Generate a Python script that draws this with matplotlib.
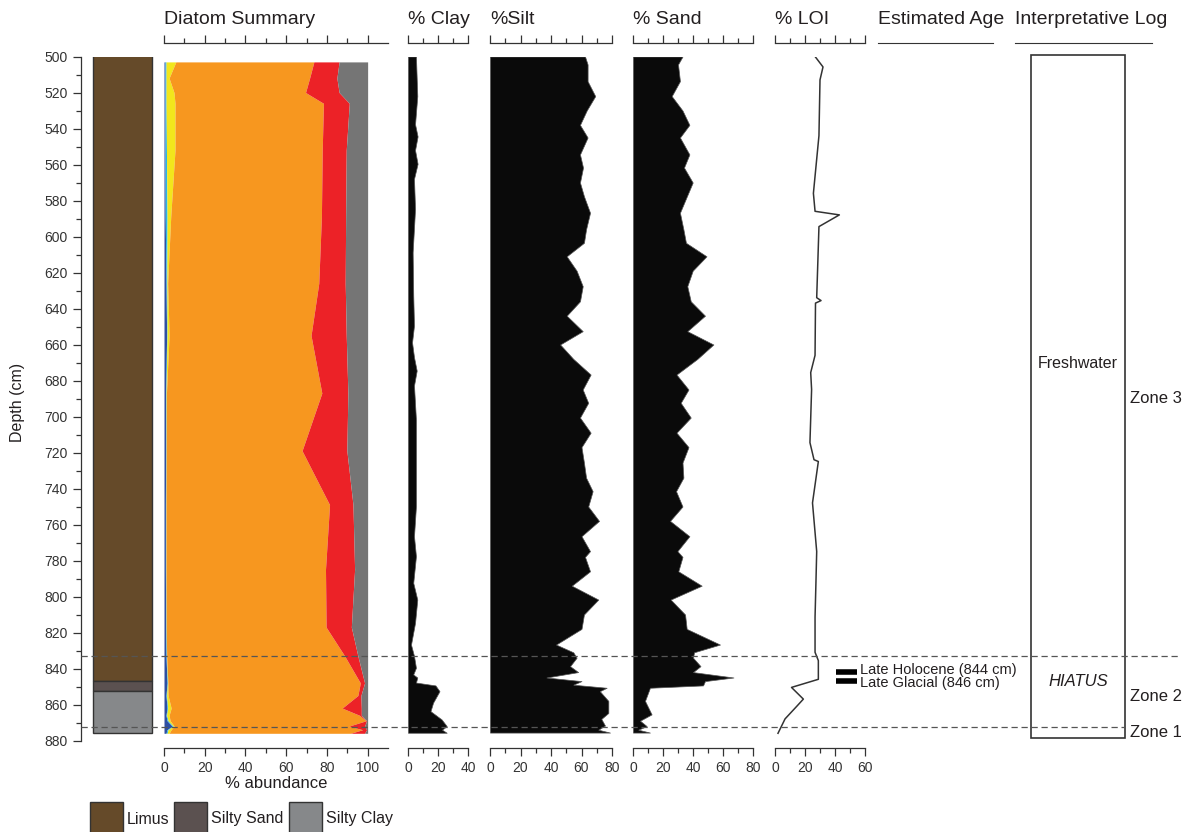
import numpy as np
import matplotlib.pyplot as plt
import matplotlib.transforms as mtransforms
from matplotlib.patches import Rectangle
from matplotlib.lines import Line2D
from matplotlib.ticker import FixedLocator

plt.rcParams['font.family'] = ['Liberation Sans', 'DejaVu Sans']

# lithology units (top, bottom in cm)
lith_names = ['Limus', 'Silty Sand', 'Silty Clay']
lith_top = [499, 846.8, 852.3]
lith_bot = [846.8, 852.3, 875.6]
lith_colors = ['#654a29', '#5b5150', '#86888a']

# diatom summary, % per group
diat_depth = [503, 512, 520, 526, 552, 589, 626, 655, 687, 719, 749, 785, 817,
              833, 848, 855, 862, 866, 869, 872, 874, 876]
diat_blue = [0.5, 0.5, 0.5, 0.5, 0.5, 0.6, 1.0, 1.3, 0.8, 0.8, 0.7, 0.7, 0.8,
             1.0, 1.5, 1.0, 1.5, 1.0, 1.5, 4.0, 1.5, 1.0]
diat_cyan = [0.5, 0.5, 0.5, 0.5, 0.7, 0.9, 0.4, 0.2, 0.2, 0.2, 0.2, 0.2, 0.2,
             0.2, 0.2, 0.3, 0.3, 0.3, 0.5, 0.5, 0.5, 0.5]
diat_yellow = [4.8, 1.5, 3.9, 4.4, 4.2, 1.8, 0.4, 1.0, 0.2, 0.1, 0.1, 0.1, 0.1,
               0.1, 0.2, 0.7, 1.7, 1.2, 1.0, 0.5, 1.5, 1.0]
diat_orange = [67.8, 69.0, 64.6, 72.9, 72.3, 74.0, 74.2, 69.7, 76.3, 66.7, 80.3, 78.3, 78.5,
               87.4, 94.5, 93.2, 84.0, 93.5, 96.3, 85.8, 94.0, 89.1]
diat_red = [12.4, 13.4, 16.5, 12.7, 11.8, 11.9, 13.0, 17.3, 12.8, 22.0, 11.5, 14.3, 12.4,
            6.5, 2.1, 1.5, 9.4, 0.9, 0.2, 7.7, 2.0, 6.9]
diat_gray = [14.0, 15.1, 14.0, 9.0, 10.5, 10.8, 11.0, 10.5, 9.7, 10.2, 7.2, 6.4, 8.0,
             4.8, 1.5, 3.3, 3.1, 3.1, 0.5, 1.5, 0.5, 1.5]
diat_colors = ['#2e4fa3', '#29b6e6', '#f2e61c', '#f7971f', '#ec2227', '#757575']

clay_depth = [500, 522, 537.6, 544.4, 552, 559.6, 568, 584.7, 608.8, 632.8, 649.5, 658.8,
              667, 674.5, 682.8, 701.8, 722, 749.8, 766.5, 777.6, 792.4, 801.7, 814.6,
              826.7, 833, 839.6, 843.3, 845, 847.8, 849.4, 852.6, 859, 863.7, 868.3,
              872, 874, 875.7]
clay = [5.3, 6.2, 4.7, 6.4, 4.7, 6.4, 4.0, 4.7, 3.1, 3.5, 4.0, 2.7,
        4.0, 5.8, 4.0, 5.3, 5.3, 5.3, 4.0, 5.3, 3.5, 6.2, 4.7,
        2.0, 4.0, 5.3, 3.5, 6.2, 5.3, 18.3, 21.0, 16.7, 15.0, 22.4,
        25.8, 22.7, 25.8]

silt_depth = [500, 504.4, 513.7, 522, 530, 538, 545, 554.4, 561.7, 570, 577.6, 586.8,
              596, 603.5, 611, 619, 627.6, 636, 644, 652.6, 660, 668, 676.7, 685,
              692.4, 700.6, 709, 717, 725.6, 734, 741.5, 750, 758, 766.5, 774.8, 778,
              786, 794, 801.7, 810, 818, 826.7, 831, 834, 838.7, 842, 845, 847, 849,
              850.7, 852.6, 858, 864.7, 868, 871.7, 874, 875.6]
silt = [62.3, 64, 64, 69, 63.4, 59, 64, 59, 61, 59, 61.6, 65.6,
        63, 61.6, 50.3, 56.8, 60.8, 59, 50.3, 60.8, 46, 54.6, 66, 60.8,
        64.4, 59, 66, 60, 61.6, 63, 67.3, 64.4, 71.5, 60, 65.6, 62.3,
        65.6, 53.6, 71, 61.6, 60, 43.3, 54.6, 56.8, 52.5, 57.8, 37, 60, 54.6,
        76.5, 72, 77.6, 77.6, 73, 75.4, 71, 78.7]

sand_depth = [500, 504.4, 513.7, 522, 530, 538, 545, 554.4, 561.7, 570, 586.8,
              596, 603.5, 611, 619, 627.6, 636, 644, 652.6, 660, 668, 676.7, 685,
              692.4, 700.6, 709, 717, 725.6, 734, 741.5, 750, 758, 766.5, 774.8, 778,
              786, 794, 801.7, 810, 818, 826.7, 831, 834, 838.7, 842, 845, 847, 849.4,
              850.7, 858, 865.5, 869, 872, 874, 875.6]
sand = [33, 30, 31.3, 25.8, 33, 37.6, 31.3, 37.6, 34, 39.8, 31.3,
        33.6, 35.3, 49, 39.8, 36.2, 38.5, 48, 36.2, 53.6, 42.9, 29, 37,
        31.8, 38.5, 29, 37, 33, 33.6, 28.7, 33, 24.7, 37.6, 29.6, 33,
        30.2, 45.8, 25.1, 34.7, 35.8, 58, 40.7, 40, 45, 40, 67, 48, 46.7,
        11.3, 8, 12.4, 4.7, 9.1, 3.5, 11.3]

loi_depth = [500, 505.8, 513, 544, 576, 586, 588, 594.5, 634, 635.6, 637, 666, 675.6,
             685, 714.5, 724, 725, 748, 775, 792, 811.5, 831, 835.6, 846, 850.5,
             857, 861, 868, 876]
loi = [26.7, 32, 30, 29.3, 25.6, 26.7, 42.9, 29.3, 27.8, 30.7, 27, 26.7, 23.8,
       24.4, 23.3, 26, 28.9, 25, 27.8, 27.3, 26.7, 26.7, 28.9, 28.9, 11,
       18.9, 14.5, 6.7, 2]

age_labels = ['Late Holocene (844 cm)', 'Late Glacial (846 cm)']
age_depths = [844, 846]

zone_bounds = [833, 872.5]
zone_labels = ['Zone 3', 'Zone 2', 'Zone 1']
zone_label_depths = [690, 855.8, 875.8]

W, H = 1200, 832
TOP, BOT = 56.5, 740.5
INK = '#231f20'

fig = plt.figure(figsize=(12, 8.32), dpi=100)


def panel(x0, x1):
    ax = fig.add_axes([x0 / W, 1 - BOT / H, (x1 - x0) / W, (BOT - TOP) / H])
    ax.set_ylim(880, 500)
    ax.patch.set_alpha(0)
    for s in ax.spines.values():
        s.set_visible(False)
    ax.set_yticks([])
    ax.set_xticks([])
    return ax


def scale(ax, xmax, step, label_step, title, x0):
    ax.set_xlim(0, xmax * 1.0)
    top = (xmax // 10) * 10
    ax.xaxis.set_major_locator(FixedLocator(np.arange(0, top + 1, label_step)))
    ax.xaxis.set_minor_locator(FixedLocator([v for v in np.arange(0, top + 1, step)
                                             if v % label_step]))
    for s in ['top', 'bottom']:
        ax.spines[s].set_visible(True)
        ax.spines[s].set_color('#333333')
        ax.spines[s].set_linewidth(0.9)
    ax.spines['top'].set_position(('outward', 9.5))
    ax.spines['bottom'].set_position(('outward', 5.6))
    ax.xaxis.set_ticks_position('both')
    ax.tick_params(axis='x', which='major', length=5.8, width=0.9, color='#333333',
                   labelsize=10, labelcolor='#333333', pad=3)
    ax.tick_params(axis='x', which='minor', length=3.4, width=0.9, color='#333333')
    fig.text(x0 / W, 1 - 20 / H, title, fontsize=14, color=INK, ha='left', va='center')


# lithology + depth axis
ax_lith = panel(81, 160)
ax_lith.set_xlim(0, 79)
ax_lith.spines['left'].set_visible(True)
ax_lith.spines['left'].set_color('#333333')
ax_lith.spines['left'].set_linewidth(0.9)
ax_lith.set_yticks(np.arange(500, 881, 20))
ax_lith.set_yticks(np.arange(510, 880, 20), minor=True)
ax_lith.tick_params(axis='y', which='major', length=5.8, width=0.9, color='#333333',
                    labelsize=10, labelcolor='#333333', pad=4)
ax_lith.tick_params(axis='y', which='minor', length=3.4, width=0.9, color='#333333')
for top, bot, c in zip(lith_top, lith_bot, lith_colors):
    ax_lith.bar(41.5, bot - top, bottom=top, width=59, color=c,
                edgecolor='#333333', linewidth=1)
fig.text(18 / W, 1 - 402 / H, 'Depth (cm)', rotation=90, fontsize=11.5, color=INK,
         ha='center', va='center')

# diatom summary
ax_d = panel(164, 388)
scale(ax_d, 110, 10, 20, 'Diatom Summary', 164)
ax_d.xaxis.set_major_locator(FixedLocator(np.arange(0, 101, 20)))
ax_d.xaxis.set_minor_locator(FixedLocator(np.arange(10, 100, 20)))
groups = [diat_blue, diat_cyan, diat_yellow, diat_orange, diat_red, diat_gray]
base = np.zeros(len(diat_depth))
for vals, c in zip(groups, diat_colors):
    upper = base + np.array(vals)
    ax_d.fill_betweenx(diat_depth, base, upper, color=c, linewidth=0)
    base = upper
fig.text(276 / W, 1 - 783 / H, '% abundance', fontsize=12, color=INK,
         ha='center', va='center')

# sediment panels
sed = [(408, 468, 40, clay_depth, clay, '% Clay'),
       (490, 612, 80, silt_depth, silt, '%Silt'),
       (633, 753, 80, sand_depth, sand, '% Sand')]
for x0, x1, xmax, dep, vals, title in sed:
    ax = panel(x0, x1)
    scale(ax, xmax, 10, 20, title, x0)
    ax.fill_betweenx(dep, 0, vals, color='#0a0a0a', edgecolor='#555555', linewidth=0.5)

ax_loi = panel(775, 865)
scale(ax_loi, 60, 10, 20, '% LOI', 775)
ax_loi.plot(loi, loi_depth, color='#333333', lw=1.1)

# estimated age
ax_age = panel(830, 993)
ax_age.set_xlim(0, 163)
ax_age.spines['top'].set_visible(True)
ax_age.spines['top'].set_bounds(48, 163)
ax_age.spines['top'].set_position(('outward', 9.5))
ax_age.spines['top'].set_color('#333333')
fig.text(878 / W, 1 - 20 / H, 'Estimated Age', fontsize=14, color=INK, va='center')
nudge = [-1.8, 0.9]
text_shift = [-1.4, 1.2]
for lab, d, n, t in zip(age_labels, age_depths, nudge, text_shift):
    ax_age.plot([6, 27], [d + n, d + n], color='black', lw=4, solid_capstyle='butt')
    ax_age.text(30, d + n + t, lab, fontsize=10.5, color=INK, va='center', ha='left')

# interpretative log
ax_int = panel(1015, 1152)
ax_int.set_xlim(0, 137)
ax_int.spines['top'].set_visible(True)
ax_int.spines['top'].set_position(('outward', 9.5))
ax_int.spines['top'].set_color('#333333')
fig.text(1015 / W, 1 - 20 / H, 'Interpretative Log', fontsize=14, color=INK, va='center')
ax_int.add_patch(Rectangle((16, 499), 94, 878.5 - 499, fill=False,
                           edgecolor='#333333', lw=1.2, clip_on=False))
ax_int.text(63, 670.3, 'Freshwater', fontsize=11.5, color=INK, ha='center', va='center')
ax_int.text(63, 847, 'HIATUS', fontsize=12, style='italic', color=INK,
            ha='center', va='center')
for lab, d in zip(zone_labels, zone_label_depths):
    ax_int.text(115, d, lab, fontsize=12, color=INK, ha='left', va='center', clip_on=False)

# zone boundaries
trans = mtransforms.blended_transform_factory(fig.transFigure, ax_lith.transData)
for d, xr in zip(zone_bounds, [1180, 1125]):
    fig.add_artist(Line2D([81 / W, xr / W], [d, d], transform=trans, color='#555555',
                          lw=0.9, ls=(0, (5, 3))))

# lithology legend
for name, c, bx in zip(lith_names, lith_colors, [90, 174, 289]):
    fig.add_artist(Rectangle((bx / W, 1 - 836 / H), 33 / W, 34 / H, transform=fig.transFigure,
                             facecolor=c, edgecolor='#333333', lw=1))
    fig.text((bx + 37) / W, 1 - 819 / H, name, fontsize=11.5, color=INK, va='center')

fig.savefig('out.png', dpi=100)
